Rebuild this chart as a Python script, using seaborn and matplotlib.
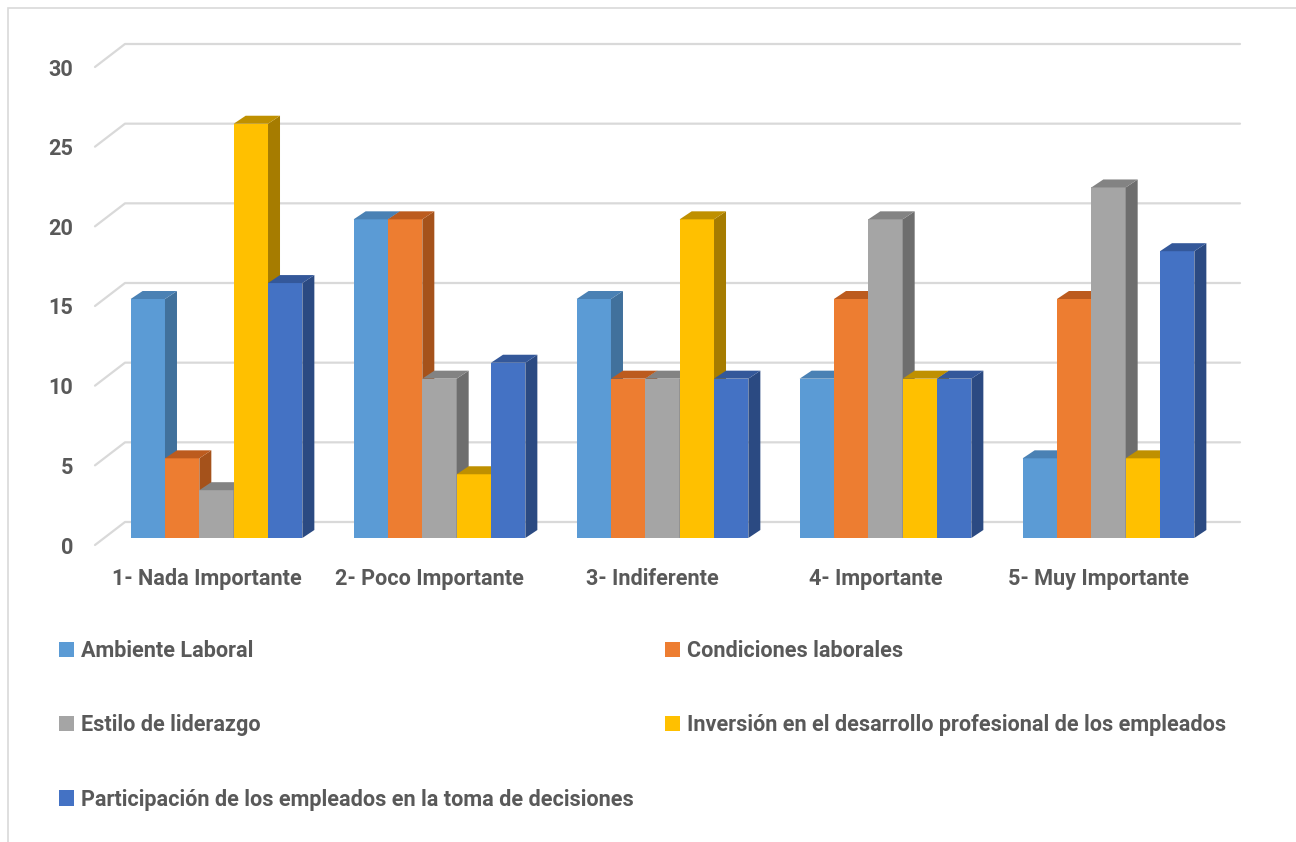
import numpy as np
import pandas as pd
import matplotlib
matplotlib.use("Agg")
import matplotlib.pyplot as plt
import matplotlib.transforms as mtransforms
from matplotlib.patches import Polygon, Patch, Rectangle
import seaborn as sns

categories = ["1- Nada Importante", "2- Poco Importante", "3- Indiferente",
              "4- Importante", "5- Muy Importante"]
series = ["Ambiente Laboral", "Condiciones laborales", "Estilo de liderazgo",
          "Inversión en el desarrollo profesional de los empleados",
          "Participación de los empleados en la toma de decisiones"]
ambiente = [15, 20, 15, 10, 5]
condiciones = [5, 20, 10, 15, 15]
estilo = [3, 10, 10, 20, 22]
inversion = [26, 4, 20, 10, 5]
participacion = [16, 11, 10, 10, 18]
y_ticks = [0, 5, 10, 15, 20, 25, 30]

front_colors = ["#5B9BD5", "#ED7D31", "#A5A5A5", "#FFC000", "#4472C4"]
side_colors = ["#41719C", "#A5521B", "#6E6E6E", "#A67C00", "#2B4A82"]
top_colors = ["#4A81B4", "#BC5B1E", "#838383", "#BF9000", "#34589A"]

rows = []
for s, vals in zip(series, [ambiente, condiciones, estilo, inversion, participacion]):
    for c, v in zip(categories, vals):
        rows.append({"cat": c, "serie": s, "valor": v})
df = pd.DataFrame(rows)

sns.set_style("white")
plt.rcParams["font.family"] = ["Roboto", "DejaVu Sans"]
plt.rcParams["font.weight"] = "bold"
text_col = "#595959"
fs = 15.6

W, H = 1296, 842
fig = plt.figure(figsize=(W / 100, H / 100), dpi=100)
ax_l, ax_r, ax_top, ax_bot = 105, 1220, 60, 538
ax = fig.add_axes([ax_l / W, 1 - ax_bot / H, (ax_r - ax_l) / W, (ax_bot - ax_top) / H])

sns.barplot(data=df, x="cat", y="valor", hue="serie", order=categories,
            hue_order=series, palette=front_colors, width=0.77, gap=0,
            saturation=1, legend=False, ax=ax, linewidth=0)
ax.set_xlim(-0.5, 4.5)
ax.set_ylim(0, 30)

px_x = (ax_r - ax_l) / 5.0
px_y = (ax_bot - ax_top) / 30.0
dx, dy = 12 / px_x, 8 / px_y

# 3D faces for each bar
n = len(categories)
for k, bar in enumerate(ax.patches[: n * len(series)]):
    j = k // n
    x0 = bar.get_x()
    x1 = x0 + bar.get_width()
    h = bar.get_height()
    bar.set_zorder(3 + j)
    side = Polygon([(x1, 0), (x1 + dx, dy), (x1 + dx, h + dy), (x1, h)],
                   closed=True, facecolor=side_colors[j], edgecolor="none", zorder=3 + j)
    top = Polygon([(x0, h), (x0 + dx, h + dy), (x1 + dx, h + dy), (x1, h)],
                  closed=True, facecolor=top_colors[j], edgecolor="none", zorder=3 + j)
    ax.add_patch(side)
    ax.add_patch(top)

# perspective gridlines on back wall
xf = -0.5 - 10 / px_x
xb = -0.5 + 20 / px_x
xr = 4.5 + 20 / px_x
for v in y_ticks:
    ax.plot([xf, xb, xr], [v - 7 / px_y, v + 16 / px_y, v + 16 / px_y],
            color="#D9D9D9", lw=1.6, zorder=1, clip_on=False)

for sp in ax.spines.values():
    sp.set_visible(False)
ax.grid(False)
ax.set_xlabel("")
ax.set_ylabel("")
ax.set_yticks(y_ticks)
ax.tick_params(axis="y", length=0, pad=23, labelsize=fs, labelcolor=text_col)
ax.tick_params(axis="x", length=0, pad=21.5, labelsize=fs, labelcolor=text_col)
for lab in ax.get_yticklabels():
    lab.set_fontweight("bold")
    lab.set_transform(lab.get_transform() + mtransforms.ScaledTranslation(0, -7 / 100, fig.dpi_scale_trans))
for lab in ax.get_xticklabels():
    lab.set_fontweight("bold")
    lab.set_transform(lab.get_transform() + mtransforms.ScaledTranslation(-10 / 100, 0, fig.dpi_scale_trans))

# legend, row-wise order like the original
order = [0, 2, 4, 1, 3]
handles = [Patch(facecolor=front_colors[i], edgecolor="none") for i in order]
labels = [series[i] for i in order]
leg = fig.legend(handles, labels, loc="upper left", bbox_to_anchor=(50 / W, 1 - 631 / H),
                 ncol=2, frameon=False, fontsize=fs, handlelength=0.7, handleheight=0.7,
                 handletextpad=0.35, labelspacing=2.42, columnspacing=1.4, borderaxespad=0)
for t in leg.get_texts():
    t.set_color(text_col)
    t.set_fontweight("bold")

fig.patches.append(Rectangle((8 / W, -0.01), 1.2, 1 - 8 / H + 0.01, transform=fig.transFigure,
                             fill=False, edgecolor="#D9D9D9", lw=1.2))

fig.savefig("out.png", dpi=100)
